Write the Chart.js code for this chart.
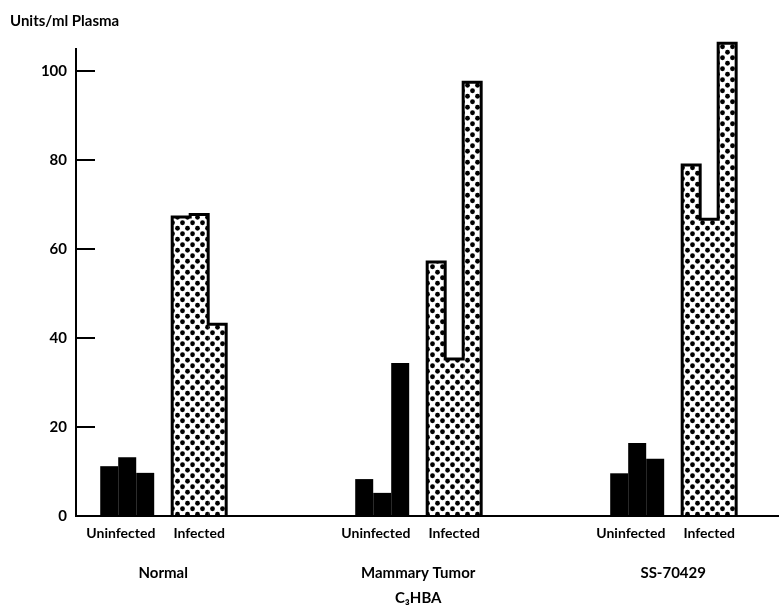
<!DOCTYPE html>
<html>
<head>
<meta charset="utf-8">
<script src="https://cdn.jsdelivr.net/npm/chart.js@4/dist/chart.umd.min.js"></script>
<style>
  html, body { margin: 0; padding: 0; background: #fff; }
  canvas { display: block; }
</style>
</head>
<body>
<canvas id="plasmaChart" width="779" height="612"></canvas>
<script>
// groups along the x axis
const categories = ["Normal", ["Mammary Tumor", "C\u2083HBA"], "SS-70429"];
const conditions = ["Uninfected", "Infected"];

// three animals per condition, one value per group
const uninfectedA = [11.2, 8.3, 9.6];
const uninfectedB = [13.2, 5.2, 16.4];
const uninfectedC = [9.7, 34.4, 12.9];
const infectedA = [67.2, 57.1, 78.9];
const infectedB = [67.8, 35.3, 66.7];
const infectedC = [43.1, 97.5, 106.3];

const yTicks = [0, 20, 40, 60, 80, 100];

const FONT = "Lato, 'Liberation Sans Narrow', 'DejaVu Sans Condensed', sans-serif";
Chart.defaults.color = "#000";
Chart.defaults.font.family = FONT;
Chart.defaults.font.weight = "bold";

// dotted fill for the infected bars
function dotPattern() {
  const c = document.createElement("canvas");
  c.width = 10;
  c.height = 11;
  const g = c.getContext("2d");
  g.fillStyle = "#fff";
  g.fillRect(0, 0, 10, 11);
  g.fillStyle = "#000";
  [[2.5, 2.75], [7.5, 8.25]].forEach(([x, y]) => {
    g.beginPath();
    g.arc(x, y, 2.4, 0, Math.PI * 2);
    g.fill();
  });
  return g.createPattern(c, "repeat");
}
const dots = dotPattern();

const catPct = 0.494;
const toPoints = arr => arr.map((v, i) => ({ x: i, y: v }));

// outline round each group of infected bars (stepped top)
const outlinePlugin = {
  id: "infectedOutline",
  afterDatasetsDraw(chart) {
    const ctx = chart.ctx;
    ctx.save();
    ctx.strokeStyle = "#000";
    ctx.lineWidth = 3;
    ctx.lineJoin = "miter";
    categories.forEach((_, j) => {
      const els = [4, 5, 6].map(d => chart.getDatasetMeta(d).data[j].getProps(["x", "y", "base", "width"], true));
      ctx.beginPath();
      ctx.moveTo(els[0].x - els[0].width / 2, els[0].base);
      els.forEach(e => {
        ctx.lineTo(e.x - e.width / 2, e.y);
        ctx.lineTo(e.x + e.width / 2, e.y);
      });
      const last = els[els.length - 1];
      ctx.lineTo(last.x + last.width / 2, last.base);
      ctx.stroke();
    });
    ctx.restore();
  }
};

const barBase = { xAxisID: "x2", borderWidth: 0, barPercentage: 1, categoryPercentage: catPct };
const blackBar = { ...barBase, backgroundColor: "#000" };
const dotBar = { ...barBase, backgroundColor: dots, clip: false };

new Chart(document.getElementById("plasmaChart"), {
  type: "bar",
  data: {
    datasets: [
      { label: "U1", data: toPoints(uninfectedA), ...blackBar },
      { label: "U2", data: toPoints(uninfectedB), ...blackBar },
      { label: "U3", data: toPoints(uninfectedC), ...blackBar },
      { label: "gap", data: categories.map((_, i) => ({ x: i, y: null })), ...blackBar },
      { label: "I1", data: toPoints(infectedA), ...dotBar },
      { label: "I2", data: toPoints(infectedB), ...dotBar },
      { label: "I3", data: toPoints(infectedC), ...dotBar }
    ]
  },
  options: {
    responsive: false,
    animation: false,
    layout: { padding: { left: 10, right: 0, top: 0, bottom: 0 } },
    plugins: {
      legend: { display: false },
      tooltip: { enabled: false },
      title: {
        display: true,
        text: "Units/ml Plasma",
        align: "start",
        font: { size: 15, weight: "bold" },
        padding: { top: 12, bottom: 19 }
      }
    },
    scales: {
      x: {
        type: "linear",
        position: "bottom",
        weight: 0,
        offset: false,
        min: -0.342,
        max: 2.415,
        grid: { display: false, drawTicks: false },
        border: { display: true, color: "#000", width: 2 },
        afterBuildTicks: scale => {
          const off = catPct * 2 / 7;
          scale.ticks = categories.flatMap((_, i) => [{ value: i - off - 0.025 }, { value: i + off }]);
        },
        afterFit: scale => { scale.height = 26; },
        ticks: {
          autoSkip: false,
          maxRotation: 0,
          padding: 9,
          font: { size: 14, weight: "bold" },
          callback: (v, idx) => conditions[idx % 2]
        }
      },
      x2: {
        type: "linear",
        position: "bottom",
        weight: 1,
        offset: false,
        min: -0.342,
        max: 2.415,
        grid: { display: false, drawTicks: false },
        border: { display: false },
        afterBuildTicks: scale => {
          scale.ticks = categories.map((_, i) => ({ value: i }));
        },
        afterFit: scale => { scale.height = 70; },
        ticks: {
          autoSkip: false,
          maxRotation: 0,
          padding: 19,
          font: { size: 15, weight: "bold", lineHeight: 1.65 },
          callback: (v, idx) => categories[idx]
        }
      },
      y: {
        min: 0,
        max: 105,
        grid: {
          drawOnChartArea: false,
          drawTicks: true,
          tickLength: -19,
          color: "#000",
          lineWidth: 2
        },
        border: { display: true, color: "#000", width: 2 },
        afterBuildTicks: scale => {
          scale.ticks = yTicks.map(v => ({ value: v }));
        },
        afterFit: scale => { scale.width = 66; },
        ticks: {
          padding: 28,
          font: { size: 15, weight: "bold" }
        }
      }
    }
  },
  plugins: [outlinePlugin]
});
</script>
</body>
</html>
